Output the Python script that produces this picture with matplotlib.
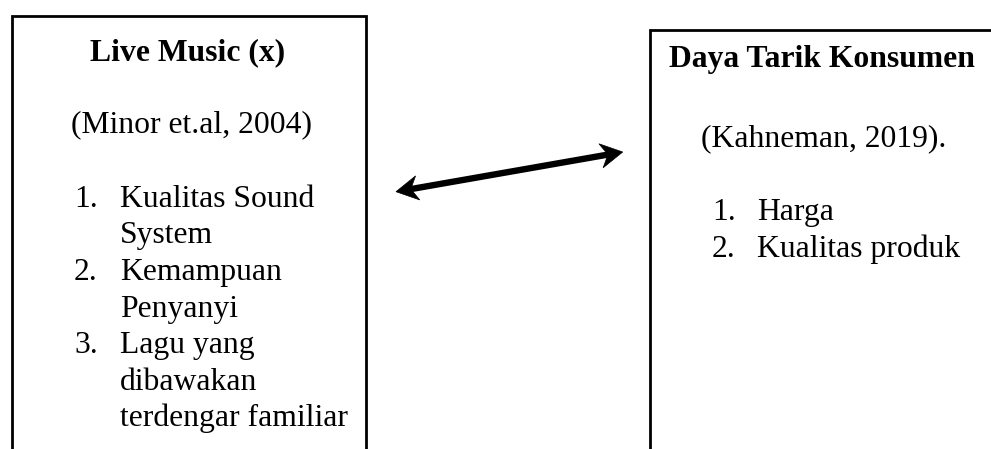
import matplotlib
matplotlib.use("Agg")
import matplotlib.pyplot as plt
from matplotlib.patches import Polygon
import numpy as np

# ---- content ----
left_title = "Live Music (x)"
left_source = "(Minor et.al, 2004)"
left_items = [["Kualitas Sound", "System"],
              ["Kemampuan", "Penyanyi"],
              ["Lagu yang", "dibawakan", "terdengar familiar"]]

right_title = "Daya Tarik Konsumen"
right_source = "(Kahneman, 2019)."
right_items = [["Harga"], ["Kualitas produk"]]

# ---- layout (pixel units) ----
W, H = 991, 449
FS = 22.8
LINE = 36.6
FONT = ["Liberation Serif", "DejaVu Serif"]

fig = plt.figure(figsize=(W / 100, H / 100), dpi=100)
ax = fig.add_axes([0, 0, 1, 1])
ax.set_xlim(0, W)
ax.set_ylim(H, 0)
ax.axis("off")

LW = 2.0  # pt

# left box (open at bottom)
ax.plot([11.7, 11.7, 365.7, 365.7], [H + 5, 15.7, 15.7, H + 5],
        color="black", lw=LW, solid_joinstyle="miter", clip_on=False)
# right box (open at bottom and right)
ax.plot([650, 650, W + 5], [H + 5, 30, 30],
        color="black", lw=LW, solid_joinstyle="miter", clip_on=False)


def draw_block(title, tx, ty, source, sx, sy, items, nx, ix, iy):
    ax.text(tx, ty, title, fontsize=FS, fontweight="bold", family=FONT,
            ha="left", va="baseline")
    ax.text(sx, sy, source, fontsize=FS, family=FONT, ha="left", va="baseline")
    y = iy
    for k, lines in enumerate(items, start=1):
        ax.text(nx, y, f"{k}.", fontsize=FS, family=FONT, ha="left", va="baseline")
        for ln in lines:
            ax.text(ix, y, ln, fontsize=FS, family=FONT, ha="left", va="baseline")
            y += LINE


draw_block(left_title, 90, 60, left_source, 71, 132.7, left_items, 74, 120, 206.7)
draw_block(right_title, 669, 67, right_source, 701, 146.7, right_items, 712, 757, 220)

# double-headed arrow with stealth heads
p0 = np.array([396.0, 191.7])
p1 = np.array([622.7, 152.0])
d = (p1 - p0) / np.linalg.norm(p1 - p0)
n = np.array([-d[1], d[0]])
L, HW, NOTCH = 22.0, 12.2, 7.0


def head(tip, direction):
    back = tip - direction * L
    pts = [tip, back + n * HW, tip - direction * (L - NOTCH), back - n * HW]
    ax.add_patch(Polygon(pts, closed=True, facecolor="black", edgecolor="black", lw=0.5))


ax.plot([p0[0] + d[0] * (L - NOTCH - 1), p1[0] - d[0] * (L - NOTCH - 1)],
        [p0[1] + d[1] * (L - NOTCH - 1), p1[1] - d[1] * (L - NOTCH - 1)],
        color="black", lw=4.6, solid_capstyle="butt")
head(p1, d)
head(p0, -d)

fig.savefig("out.png", dpi=100)
